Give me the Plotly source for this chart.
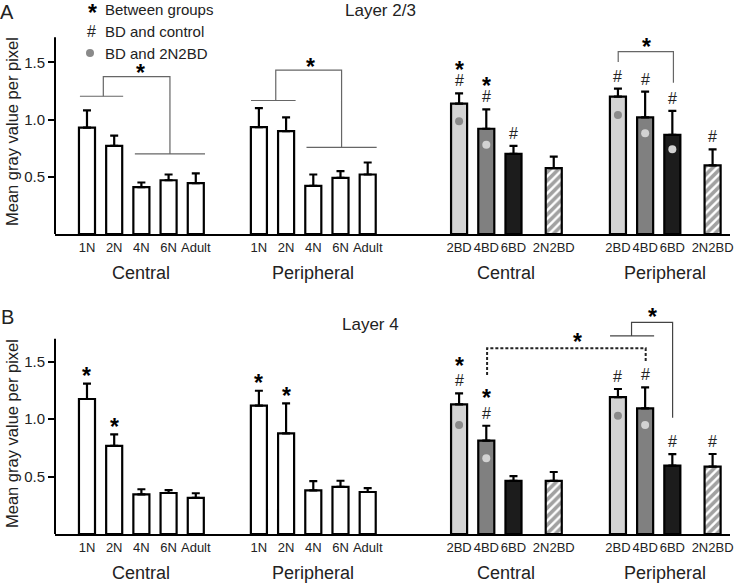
import plotly.graph_objects as go

# ---------------- data ----------------
control_labels = ["1N", "2N", "4N", "6N", "Adult"]
bd_labels = ["2BD", "4BD", "6BD", "2N2BD"]
group_names = ["Central", "Peripheral", "Central", "Peripheral"]

# Layer 2/3 (panel A)
a_ctrl_central = [0.93, 0.77, 0.41, 0.47, 0.445]
a_ctrl_central_err = [0.15, 0.09, 0.04, 0.05, 0.085]
a_ctrl_periph = [0.935, 0.90, 0.42, 0.49, 0.52]
a_ctrl_periph_err = [0.165, 0.12, 0.10, 0.06, 0.105]
a_bd_central = [1.14, 0.92, 0.70, 0.576]
a_bd_central_err = [0.09, 0.17, 0.07, 0.10]
a_bd_periph = [1.20, 1.02, 0.866, 0.60]
a_bd_periph_err = [0.07, 0.225, 0.21, 0.14]
a_dot_central = [0.985, 0.78, None, None]
a_dot_periph = [1.04, 0.88, 0.74, None]
a_marks_ctrl_central = ["", "", "", "", ""]
a_marks_ctrl_periph = ["", "", "", "", ""]
a_marks_bd_central = ["*#", "*#", "#", ""]
a_marks_bd_periph = ["#", "#", "#", "#"]

# Layer 4 (panel B)
b_ctrl_central = [1.176, 0.767, 0.346, 0.357, 0.314]
b_ctrl_central_err = [0.134, 0.10, 0.044, 0.026, 0.041]
b_ctrl_periph = [1.118, 0.877, 0.38, 0.41, 0.366]
b_ctrl_periph_err = [0.13, 0.26, 0.08, 0.054, 0.034]
b_bd_central = [1.13, 0.813, 0.462, 0.462]
b_bd_central_err = [0.095, 0.13, 0.043, 0.078]
b_bd_periph = [1.193, 1.095, 0.595, 0.587]
b_bd_periph_err = [0.07, 0.183, 0.10, 0.11]
b_dot_central = [0.95, 0.66, None, None]
b_dot_periph = [1.03, 0.95, None, None]
b_marks_ctrl_central = ["*", "*", "", "", ""]
b_marks_ctrl_periph = ["*", "*", "", "", ""]
b_marks_bd_central = ["*#", "*#", "", ""]
b_marks_bd_periph = ["#", "#", "#", "#"]

# ---------------- layout helpers ----------------
group_starts = [0, 6.32, 13.68, 19.52]
ctrl_offsets = [0, 1, 2, 3, 4]
bd_offsets = [0, 1, 2, 3.48]
BAR_W = 0.59
X_RANGE = [-1.176, 23.64]

bd_fill = ["#d3d3d3", "#808080", "#1c1c1c", "#ffffff"]
bd_pattern = ["", "", "", "/"]
dot_col = ["#8a8a8a", "#d2d2d2", "#d2d2d2", "#d2d2d2"]

W, H = 750, 586
ML = 55
MR = W - 730
STAR_LIFT = 4  # star glyph sits above the text box centre

# panel vertical geometry (screen px of zero line, px per unit, range max)
A_ZERO, A_SCALE, A_MAX = 234, 114.4, 1.95
B_ZERO, B_SCALE, B_MAX = 534, 114.8, 2.0


def px_to_paper_x(px):
    return (px - ML) / (W - ML - MR)


def px_to_paper_y(py):
    return (H - py) / H


fig = go.Figure()
annotations = []
shapes = []

STAR_FONT = dict(size=23, color="black")
HASH_FONT = dict(size=16, color="#222")


def add_panel(xa, ya, data, marks, dots, star_gap):
    xs, ys, es, cols, pats, labels, mk = [], [], [], [], [], [], []
    for g in range(4):
        vals, errs = data[g]
        if g < 2:
            offs, labs = ctrl_offsets, control_labels
            cl = ["#ffffff"] * 5
            pt = [""] * 5
        else:
            offs, labs = bd_offsets, bd_labels
            cl = bd_fill
            pt = bd_pattern
        for i, v in enumerate(vals):
            xs.append(group_starts[g] + offs[i])
            ys.append(v)
            es.append(errs[i])
            cols.append(cl[i])
            pats.append(pt[i])
            labels.append(labs[i])
            mk.append(marks[g][i])
    fig.add_trace(go.Bar(
        x=xs, y=ys, width=BAR_W, xaxis=xa, yaxis=ya,
        marker=dict(color=cols, line=dict(color="black", width=2.2),
                    pattern=dict(shape=pats, fgcolor="black", bgcolor="white",
                                 size=6, solidity=0.6)),
        error_y=dict(type="data", symmetric=False, array=es, arrayminus=[0] * len(es),
                     color="black", thickness=2.2, width=4),
        showlegend=False, hoverinfo="skip"))
    # dots
    dx, dy, dc = [], [], []
    for gi, dl in zip([2, 3], dots):
        for i, d in enumerate(dl):
            if d is not None:
                dx.append(group_starts[gi] + bd_offsets[i])
                dy.append(d)
                dc.append(dot_col[i])
    fig.add_trace(go.Scatter(x=dx, y=dy, mode="markers", xaxis=xa, yaxis=ya,
                             marker=dict(size=8, color=dc), showlegend=False,
                             hoverinfo="skip"))
    # significance marks
    for x, v, e, m in zip(xs, ys, es, mk):
        top = v + e
        if m == "*":
            annotations.append(dict(x=x, y=top, xref=xa, yref=ya, text="<b>*</b>",
                                    showarrow=False, font=STAR_FONT,
                                    xanchor="center", yanchor="middle",
                                    yshift=11.6 - STAR_LIFT))
        elif m in ("#", "*#"):
            annotations.append(dict(x=x, y=top, xref=xa, yref=ya, text="#",
                                    showarrow=False, font=HASH_FONT,
                                    xanchor="center", yanchor="middle", yshift=12.5))
            if m == "*#":
                annotations.append(dict(x=x, y=top, xref=xa, yref=ya, text="<b>*</b>",
                                        showarrow=False, font=STAR_FONT,
                                        xanchor="center", yanchor="middle",
                                        yshift=12.5 + star_gap - STAR_LIFT))
    # group labels
    for g in range(4):
        offs = ctrl_offsets if g < 2 else bd_offsets
        cx = group_starts[g] + (offs[0] + offs[-1]) / 2
        annotations.append(dict(x=cx, y=0, xref=xa, yref=ya, text=group_names[g],
                                showarrow=False, font=dict(size=18, color="#222"),
                                xanchor="center", yanchor="middle", yshift=-39))
    return xs, labels


def bracket_star(xa, ya, x, y):
    annotations.append(dict(x=x, y=y, xref=xa, yref=ya, text="<b>*</b>", showarrow=False,
                            font=STAR_FONT, xanchor="center", yanchor="middle",
                            yshift=-STAR_LIFT))


def line(xa, ya, pts, color, width, dash="solid"):
    path = "M " + " L ".join(f"{x},{y}" for x, y in pts)
    shapes.append(dict(type="path", path=path, xref=xa, yref=ya,
                       line=dict(color=color, width=width, dash=dash)))


# Panel A
xsA, labA = add_panel("x", "y",
                      [(a_ctrl_central, a_ctrl_central_err), (a_ctrl_periph, a_ctrl_periph_err),
                       (a_bd_central, a_bd_central_err), (a_bd_periph, a_bd_periph_err)],
                      [a_marks_ctrl_central, a_marks_ctrl_periph, a_marks_bd_central, a_marks_bd_periph],
                      [a_dot_central, a_dot_periph], 15)
# Panel B
xsB, labB = add_panel("x2", "y2",
                      [(b_ctrl_central, b_ctrl_central_err), (b_ctrl_periph, b_ctrl_periph_err),
                       (b_bd_central, b_bd_central_err), (b_bd_periph, b_bd_periph_err)],
                      [b_marks_ctrl_central, b_marks_ctrl_periph, b_marks_bd_central, b_marks_bd_periph],
                      [b_dot_central, b_dot_periph], 19)

# Brackets panel A
gc = "#666666"
line("x", "y", [(-0.26, 1.204), (1.33, 1.204)], gc, 1.2)
line("x", "y", [(0.6, 1.204), (0.6, 1.375), (3.05, 1.375), (3.05, 0.70)], gc, 1.2)
line("x", "y", [(1.76, 0.70), (4.34, 0.70)], gc, 1.2)
bracket_star("x", "y", 1.95, 1.44)
line("x", "y", [(6.03, 1.167), (7.67, 1.167)], gc, 1.2)
line("x", "y", [(6.94, 1.167), (6.94, 1.432), (9.36, 1.432), (9.36, 0.757)], gc, 1.2)
line("x", "y", [(8.07, 0.757), (10.65, 0.757)], gc, 1.2)
bracket_star("x", "y", 8.22, 1.497)
line("x", "y", [(19.53, 1.503), (19.53, 1.594), (21.56, 1.594), (21.56, 1.322)], gc, 1.2)
bracket_star("x", "y", 20.57, 1.673)

# Brackets panel B
line("x2", "y2", [(14.71, 1.385), (14.71, 1.618), (20.54, 1.618), (20.54, 1.50)],
     "#222", 2, "3px,2px")
bracket_star("x2", "y2", 18.05, 1.707)
line("x2", "y2", [(19.23, 1.725), (20.85, 1.725)], "#444", 1.2)
line("x2", "y2", [(20.02, 1.725), (20.02, 1.844), (21.53, 1.844), (21.53, 1.013)], "#444", 1.2)
bracket_star("x2", "y2", 20.80, 1.928)

# y axis lines (stop below the top of the plot area)
shapes.append(dict(type="line", xref="x domain", yref="y", x0=0, x1=0, y0=0, y1=1.72,
                   line=dict(color="black", width=2)))
shapes.append(dict(type="line", xref="x2 domain", yref="y2", x0=0, x1=0, y0=0, y1=1.70,
                   line=dict(color="black", width=2)))


def paper_text(text, px, py, size, xanchor="center", angle=0, yshift=0, color="#222"):
    annotations.append(dict(x=px_to_paper_x(px), y=px_to_paper_y(py), xref="paper", yref="paper",
                            text=text, textangle=angle, showarrow=False,
                            xanchor=xanchor, yanchor="middle", yshift=yshift,
                            font=dict(size=size, color=color)))


paper_text("Mean gray value per pixel", 12, 132, 16.5, angle=-90)
paper_text("Mean gray value per pixel", 12, 434, 16.5, angle=-90)
paper_text("A", 7, 12, 20)
paper_text("B", 7, 317, 20)
paper_text("Layer 2/3", 380, 11, 17)
paper_text("Layer 4", 370, 325, 17)

legend_rows = [("Between groups", 9), ("BD and control", 31), ("BD and 2N2BD", 53)]
for txt, py in legend_rows:
    paper_text(txt, 103, py, 15, xanchor="left")
paper_text("<b>*</b>", 92, 9, 23, yshift=-STAR_LIFT, color="black")
paper_text("#", 91, 31, 16)
shapes.append(dict(type="circle", xref="paper", yref="paper",
                   x0=px_to_paper_x(86), x1=px_to_paper_x(94),
                   y0=px_to_paper_y(57), y1=px_to_paper_y(49),
                   fillcolor="#8a8a8a", line=dict(width=0)))

xaxis_common = dict(range=X_RANGE, showgrid=False, zeroline=False, showline=True,
                    linecolor="black", linewidth=2, ticks="", tickangle=0,
                    tickfont=dict(size=13, color="#222"))
yaxis_common = dict(showgrid=False, zeroline=False, showline=False,
                    ticks="outside", ticklen=6, tickwidth=2, tickcolor="black",
                    tickvals=[0.5, 1.0, 1.5], ticktext=["0.5", "1.0", "1.5"],
                    tickfont=dict(size=15, color="#222"))

fig.update_layout(
    width=W, height=H,
    margin=dict(l=ML, r=MR, t=0, b=0, autoexpand=False),
    paper_bgcolor="white", plot_bgcolor="white",
    font=dict(family="Liberation Sans, Arial, sans-serif"),
    xaxis=dict(domain=[0, 1], anchor="y", tickmode="array", tickvals=xsA, ticktext=labA,
               **xaxis_common),
    yaxis=dict(domain=[px_to_paper_y(A_ZERO), px_to_paper_y(A_ZERO - A_SCALE * A_MAX)],
               range=[0, A_MAX], anchor="x", **yaxis_common),
    xaxis2=dict(domain=[0, 1], anchor="y2", tickmode="array", tickvals=xsB, ticktext=labB,
                **xaxis_common),
    yaxis2=dict(domain=[px_to_paper_y(B_ZERO), px_to_paper_y(B_ZERO - B_SCALE * B_MAX)],
                range=[0, B_MAX], anchor="x2", **yaxis_common),
    annotations=annotations,
    shapes=shapes,
)

fig.write_html("out.html", config={"displayModeBar": False},
               post_script="document.body.style.margin='0';document.body.style.overflow='hidden';")
